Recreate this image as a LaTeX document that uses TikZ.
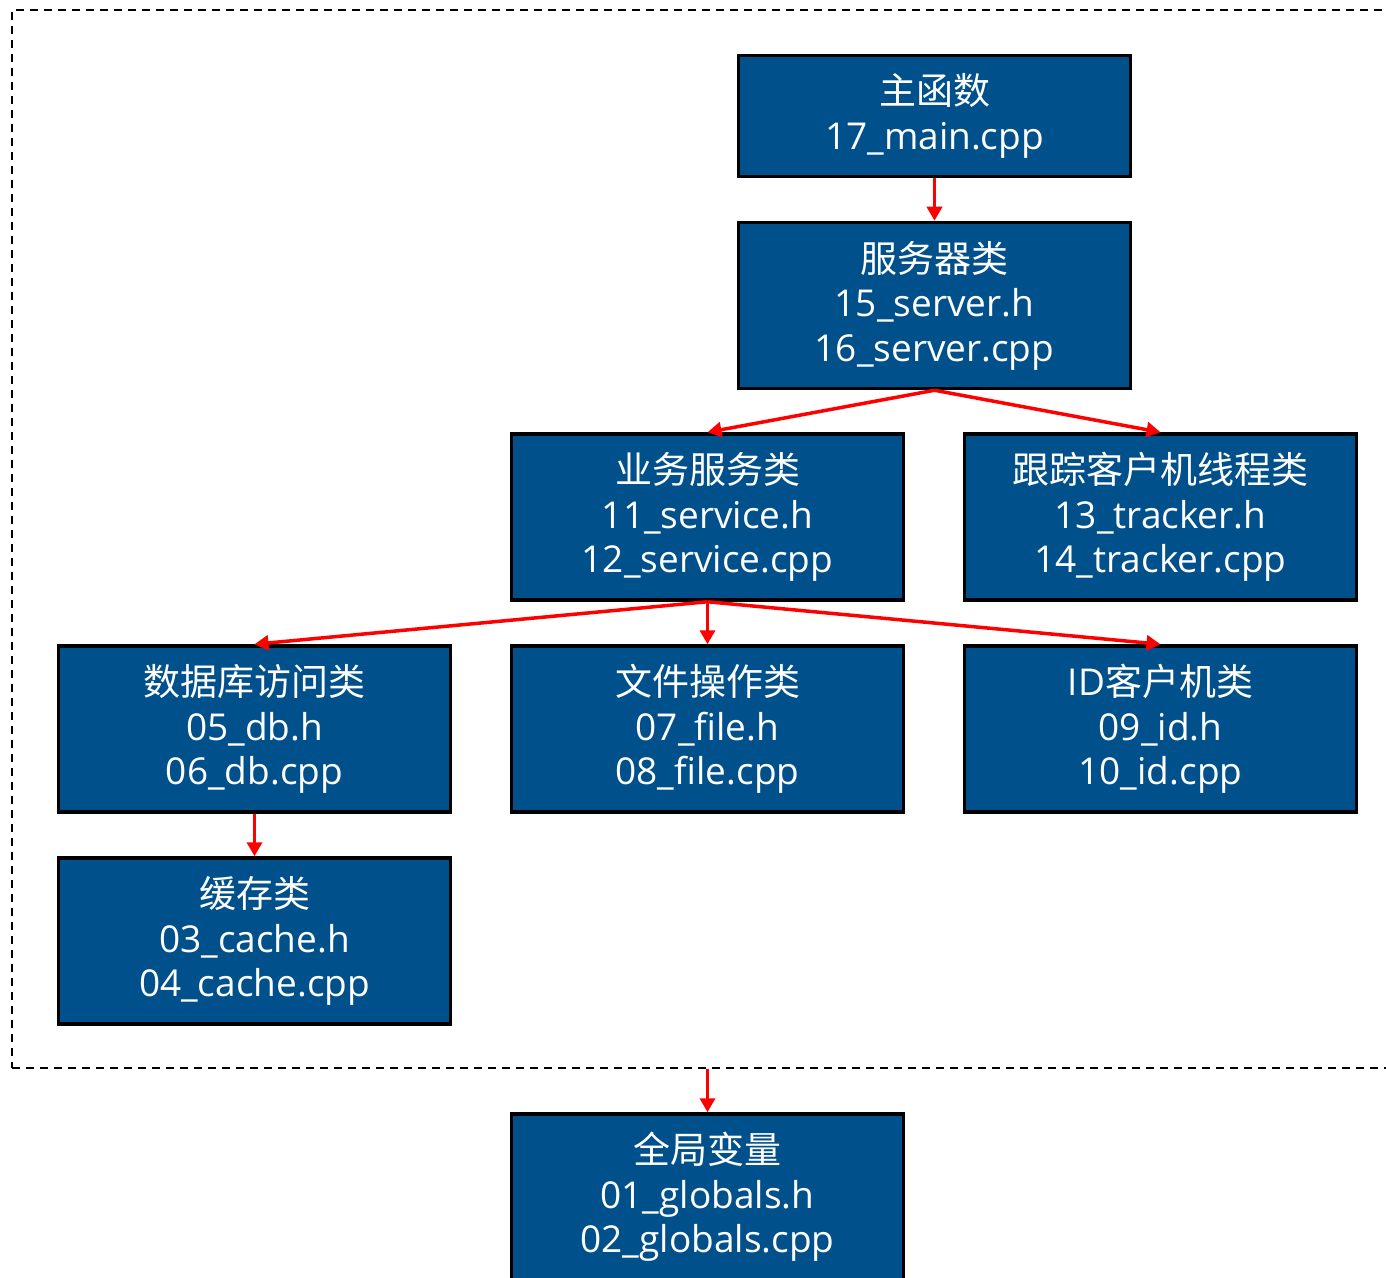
\documentclass[tikz,border=0pt]{standalone}
\usepackage{fontspec}
\setmainfont{Open Sans}
\newfontfamily\cjk{Noto Sans CJK SC}
\usetikzlibrary{arrows.meta}
\definecolor{boxblue}{HTML}{00508C}
\definecolor{arrred}{HTML}{FF0000}
\begin{document}
\begin{tikzpicture}[x=0.5pt,y=-0.5pt,
  box/.style={draw=black, line width=1.75pt, fill=boxblue, text=white,
    minimum width=196pt, minimum height=83pt, align=center, inner sep=0pt,
    font=\fontsize{18.5}{22.3}\selectfont},
  arr/.style={draw=arrred, line width=1.75pt, -{Triangle[length=7pt,width=7.5pt]}},
  frame/.style={draw=black, line width=1pt, dash pattern=on 4pt off 3pt,
    minimum width=694pt, minimum height=529pt, inner sep=0pt}]
\useasboundingbox (0,0) rectangle (1386,1278);
\clip (0,0) rectangle (1386,1278);
\node[frame] (fr) at (706,539) {};
\node[box, minimum height=60.5pt] (main) at (934.5,116) {{\cjk 主函数}\\17\_main.cpp};
\node[box] (server) at (934.5,305.5) {{\cjk 服务器类}\\15\_server.h\\16\_server.cpp};
\node[box] (service) at (707.5,517) {{\cjk 业务服务类}\\11\_service.h\\12\_service.cpp};
\node[box] (tracker) at (1160.5,517) {{\cjk 跟踪客户机线程类}\\13\_tracker.h\\14\_tracker.cpp};
\node[box] (db) at (254.5,729) {{\cjk 数据库访问类}\\05\_db.h\\06\_db.cpp};
\node[box] (file) at (707.5,729) {{\cjk 文件操作类}\\07\_file.h\\08\_file.cpp};
\node[box] (id) at (1160.5,729) {ID{\cjk 客户机类}\\09\_id.h\\10\_id.cpp};
\node[box] (cache) at (254.5,941) {{\cjk 缓存类}\\03\_cache.h\\04\_cache.cpp};
\node[box] (glob) at (707.5,1197) {{\cjk 全局变量}\\01\_globals.h\\02\_globals.cpp};
\draw[arr] (main.south) -- (server.north);
\draw[arr] (server.south) -- (service.north);
\draw[arr] (server.south) -- (tracker.north);
\draw[arr] (service.south) -- (db.north);
\draw[arr] (service.south) -- (file.north);
\draw[arr] (service.south) -- (id.north);
\draw[arr] (db.south) -- (cache.north);
\draw[arr] (glob.north |- fr.south) -- (glob.north);
\end{tikzpicture}
\end{document}
